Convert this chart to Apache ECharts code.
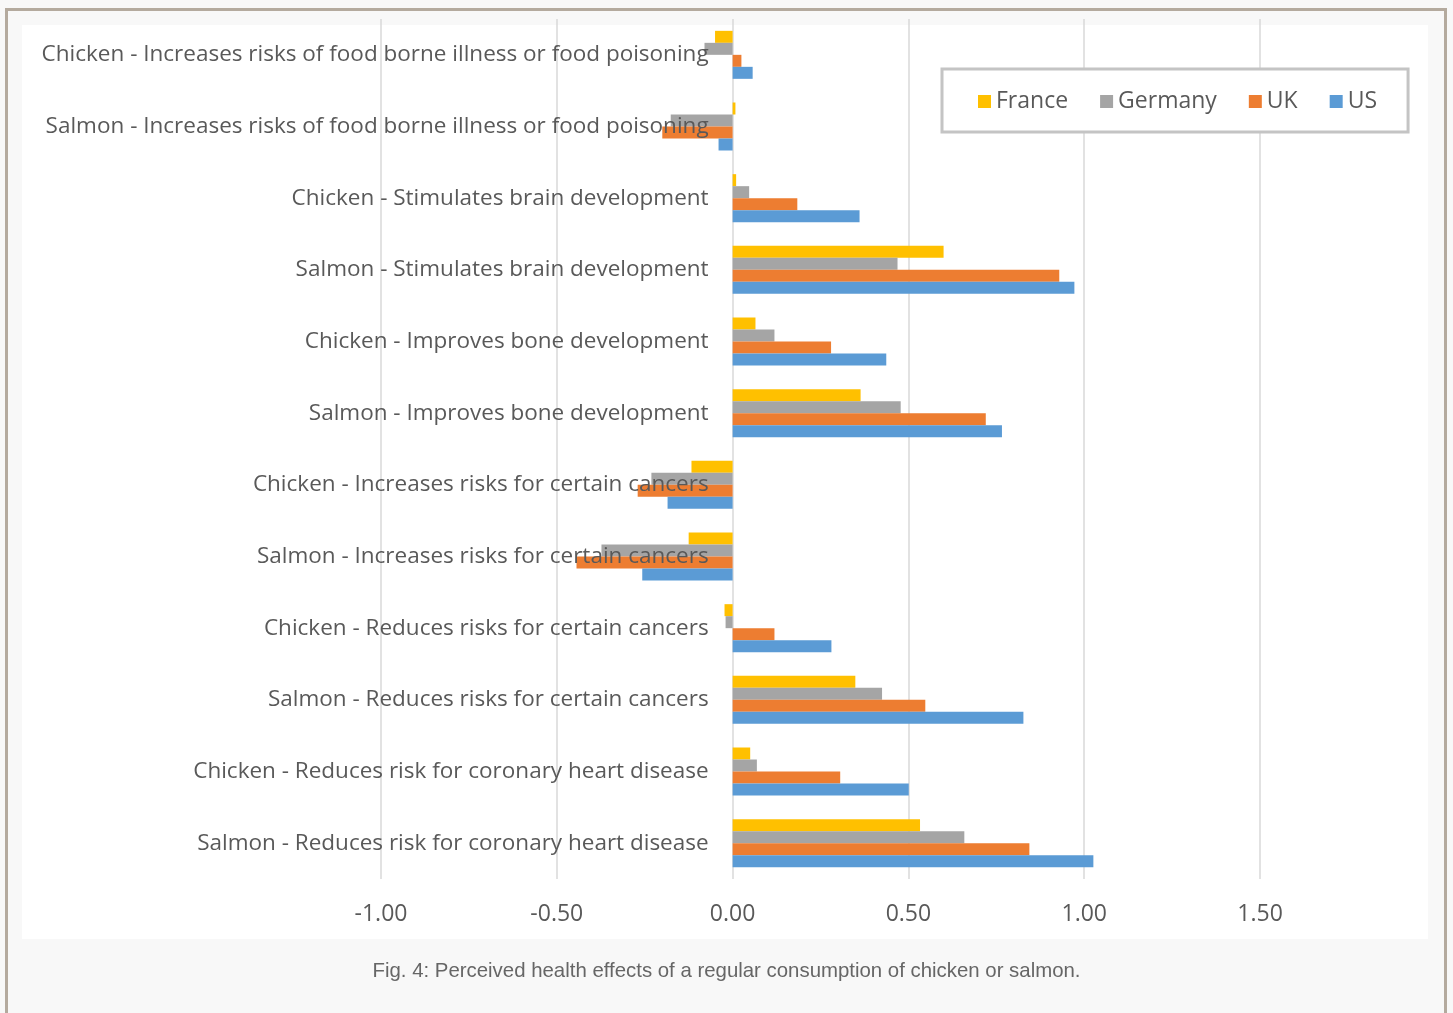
<!DOCTYPE html>
<html>
<head>
<meta charset="utf-8">
<script src="https://cdn.jsdelivr.net/npm/echarts@6/dist/echarts.min.js"></script>
<style>
html,body{margin:0;padding:0;background:#f8f8f8;}
#chart{width:1453px;height:1013px;}
</style>
</head>
<body>
<div id="chart"></div>
<script>
const categories = [
  "Chicken - Increases risks of food borne illness or food poisoning",
  "Salmon - Increases risks of food borne illness or food poisoning",
  "Chicken - Stimulates brain development",
  "Salmon - Stimulates brain development",
  "Chicken - Improves bone development",
  "Salmon - Improves bone development",
  "Chicken - Increases risks for certain cancers",
  "Salmon - Increases risks for certain cancers",
  "Chicken - Reduces risks for certain cancers",
  "Salmon - Reduces risks for certain cancers",
  "Chicken - Reduces risk for coronary heart disease",
  "Salmon - Reduces risk for coronary heart disease"
];
const france  = [-0.05, 0.008, 0.01, 0.60, 0.065, 0.364, -0.117, -0.125, -0.023, 0.349, 0.05, 0.533];
const germany = [-0.08, -0.176, 0.047, 0.469, 0.119, 0.478, -0.231, -0.373, -0.02, 0.425, 0.069, 0.659];
const uk      = [0.025, -0.20, 0.184, 0.929, 0.28, 0.72, -0.27, -0.444, 0.119, 0.548, 0.306, 0.844];
const us      = [0.057, -0.04, 0.361, 0.972, 0.437, 0.766, -0.185, -0.257, 0.281, 0.827, 0.501, 1.026];
const seriesNames = ["France", "Germany", "UK", "US"];
const seriesColors = ["#FFC000", "#A5A5A5", "#ED7D31", "#5B9BD5"];
const tickValues = [-1, -0.5, 0, 0.5, 1, 1.5];
const caption = "Fig. 4: Perceived health effects of a regular consumption of chicken or salmon.";

const chart = echarts.init(document.getElementById('chart'), null, {renderer: 'canvas'});
const seriesData = [france, germany, uk, us];
const labelFont = '"Open Sans", "DejaVu Sans", sans-serif';

const xMin = -1, xMax = 1.97;
const gridLeft = 381, gridRight = 27.7;
const gridWidth = 1453 - gridLeft - gridRight;
// move the category axis (and its labels) onto the zero line
const zeroOffset = -((0 - xMin) / (xMax - xMin)) * gridWidth;

const option = {
  backgroundColor: '#f8f8f8',
  animation: false,
  title: {
    text: caption,
    left: 'center',
    top: 956,
    textStyle: {fontFamily: '"Liberation Sans", Arial, sans-serif', fontSize: 20.4, fontWeight: 'normal', color: '#666666'}
  },
  graphic: [
    {type: 'rect', z: -10, shape: {x: 6.5, y: 9.5, width: 1439, height: 1020}, style: {fill: '#f8f8f8', stroke: '#b4aa9e', lineWidth: 3}},
    {type: 'rect', z: -9, shape: {x: 22, y: 25, width: 1406, height: 914}, style: {fill: '#ffffff'}}
  ],
  legend: {
    data: seriesNames,
    left: 942,
    top: 69,
    orient: 'horizontal',
    icon: 'rect',
    itemWidth: 13,
    itemHeight: 13,
    itemGap: 32,
    padding: [21, 31, 19, 36],
    backgroundColor: '#ffffff',
    borderColor: '#c4c4c4',
    borderWidth: 3,
    textStyle: {fontFamily: labelFont, fontSize: 23, color: '#595959'}
  },
  grid: {left: gridLeft, right: gridRight, top: 19, height: 860, containLabel: false, outerBoundsMode: 'none'},
  xAxis: {
    type: 'value',
    min: xMin,
    max: xMax,
    interval: 0.5,
    axisLine: {show: false},
    axisTick: {show: false},
    splitLine: {show: true, showMaxLine: false, lineStyle: {color: '#d9d9d9', width: 1.5}},
    axisLabel: {
      showMaxLabel: false,
      margin: 24,
      fontFamily: labelFont,
      fontSize: 23,
      color: '#595959',
      formatter: function (v) {
        return tickValues.some(t => Math.abs(t - v) < 1e-9) ? v.toFixed(2) : '';
      }
    }
  },
  yAxis: {
    type: 'category',
    data: categories,
    inverse: true,
    position: 'left',
    offset: zeroOffset,
    z: 5,
    axisLine: {show: false, onZero: false},
    axisTick: {show: false},
    axisLabel: {margin: 24, fontFamily: labelFont, fontSize: 22.5, color: '#595959'}
  },
  series: seriesNames.map((name, i) => ({
    name: name,
    type: 'bar',
    data: seriesData[i],
    barWidth: 12,
    barGap: '0%',
    itemStyle: {color: seriesColors[i]}
  }))
};
chart.setOption(option);
</script>
</body>
</html>
